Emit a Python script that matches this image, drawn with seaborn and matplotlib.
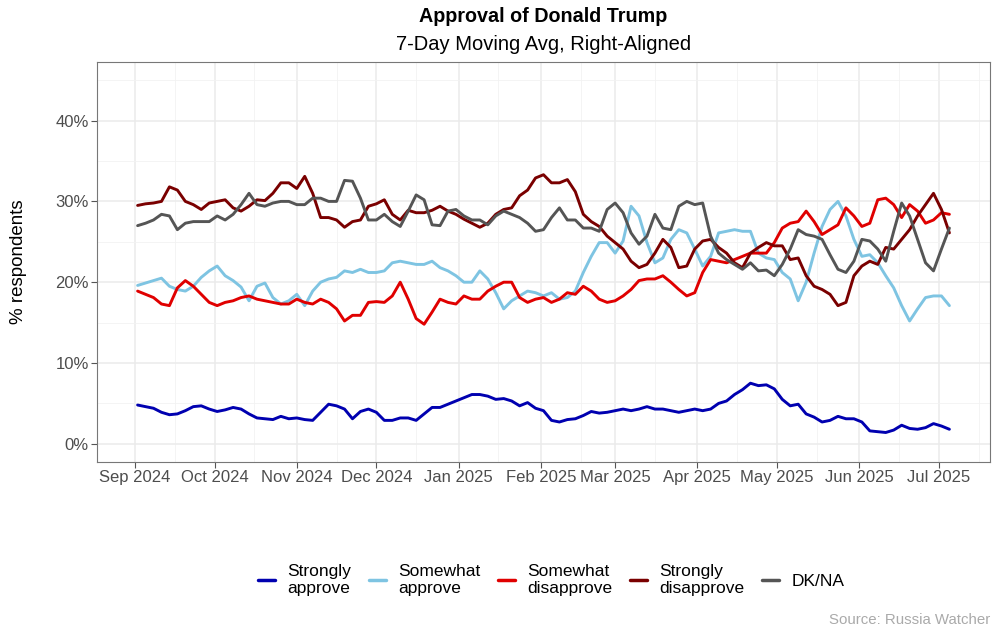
import pandas as pd
import seaborn as sns
import matplotlib.pyplot as plt
import matplotlib.dates as mdates
from matplotlib.ticker import FuncFormatter, MultipleLocator


# readings every 3 days, 7-day moving average (%)
dates = pd.date_range('2024-09-02', periods=103, freq='3D')

strongly_approve = [
    4.8, 4.6, 4.4, 3.9, 3.6, 3.7, 4.1, 4.6, 4.7, 4.3,
    4.0, 4.2, 4.5, 4.3, 3.7, 3.2, 3.1, 3.0, 3.4, 3.1,
    3.2, 3.0, 2.9, 3.9, 4.9, 4.7, 4.3, 3.1, 4.0, 4.3,
    3.9, 2.9, 2.9, 3.2, 3.2, 2.9, 3.7, 4.5, 4.5, 4.9,
    5.3, 5.7, 6.1, 6.1, 5.9, 5.5, 5.6, 5.3, 4.7, 5.1,
    4.4, 4.1, 2.9, 2.7, 3.0, 3.1, 3.5, 4.0, 3.8, 3.9,
    4.1, 4.3, 4.1, 4.3, 4.6, 4.3, 4.3, 4.1, 3.9, 4.1,
    4.3, 4.1, 4.3, 5.0, 5.3, 6.1, 6.7, 7.5, 7.2, 7.3,
    6.8, 5.5, 4.7, 4.9, 3.7, 3.3, 2.7, 2.9, 3.4, 3.1,
    3.1, 2.7, 1.6, 1.5, 1.4, 1.7, 2.3, 1.9, 1.8, 2.0,
    2.5, 2.2, 1.8]

somewhat_approve = [
    19.6, 19.9, 20.2, 20.5, 19.5, 19.1, 18.9, 19.5, 20.6, 21.4,
    22.0, 20.8, 20.2, 19.4, 17.7, 19.5, 19.9, 18.1, 17.3, 17.7,
    18.5, 17.1, 18.9, 20.0, 20.4, 20.6, 21.4, 21.2, 21.6, 21.2,
    21.2, 21.4, 22.4, 22.6, 22.4, 22.2, 22.2, 22.6, 21.8, 21.4,
    20.8, 20.0, 20.0, 21.4, 20.4, 18.7, 16.7, 17.7, 18.3, 18.9,
    18.7, 18.3, 18.7, 17.9, 18.1, 18.9, 21.2, 23.2, 24.9, 24.9,
    23.6, 25.1, 29.4, 28.2, 24.9, 22.4, 23.0, 25.3, 26.5, 26.1,
    24.1, 22.0, 23.2, 26.1, 26.3, 26.5, 26.3, 26.3, 23.6, 23.0,
    22.8, 21.2, 20.4, 17.7, 20.0, 23.6, 26.9, 29.0, 30.0, 28.2,
    25.3, 23.2, 23.4, 22.4, 20.8, 19.3, 17.1, 15.2, 16.7, 18.1,
    18.3, 18.3, 17.1]

somewhat_disapprove = [
    18.9, 18.5, 18.1, 17.3, 17.1, 19.3, 20.2, 19.5, 18.5, 17.5,
    17.1, 17.5, 17.7, 18.1, 18.3, 17.9, 17.7, 17.5, 17.3, 17.3,
    17.9, 17.5, 17.3, 17.9, 17.5, 16.7, 15.2, 15.9, 15.9, 17.5,
    17.6, 17.5, 18.3, 20.0, 17.9, 15.5, 14.8, 16.3, 17.9, 17.5,
    17.3, 18.3, 17.9, 17.9, 18.9, 19.5, 20.0, 20.0, 18.1, 17.5,
    17.9, 18.1, 17.5, 17.9, 18.7, 18.5, 19.5, 18.9, 17.9, 17.5,
    17.7, 18.3, 19.1, 20.2, 20.4, 20.4, 20.8, 20.0, 19.1, 18.3,
    18.7, 21.2, 22.8, 22.6, 22.4, 22.8, 23.2, 23.6, 23.6, 23.6,
    24.9, 26.7, 27.3, 27.5, 28.8, 27.5, 25.9, 26.5, 27.1, 29.2,
    28.2, 26.9, 27.3, 30.2, 30.4, 29.6, 28.0, 29.6, 28.8, 27.3,
    27.7, 28.6, 28.4]

strongly_disapprove = [
    29.5, 29.7, 29.8, 30.0, 31.8, 31.4, 30.0, 29.6, 29.0, 29.8,
    30.0, 30.2, 29.2, 28.8, 29.4, 30.2, 30.1, 31.0, 32.3, 32.3,
    31.6, 33.1, 31.0, 28.0, 28.0, 27.7, 26.8, 27.5, 27.7, 29.4,
    29.7, 30.2, 28.4, 27.7, 28.9, 28.6, 28.6, 28.9, 29.4, 28.8,
    28.4, 27.8, 27.3, 26.8, 27.3, 28.4, 29.0, 29.2, 30.7, 31.4,
    32.9, 33.3, 32.3, 32.3, 32.7, 31.2, 28.4, 27.5, 26.9, 25.7,
    24.9, 24.1, 22.6, 21.8, 22.2, 23.6, 25.3, 24.3, 21.8, 22.0,
    24.1, 25.1, 25.3, 24.3, 23.6, 22.4, 21.8, 23.6, 24.3, 24.9,
    24.5, 24.5, 22.8, 23.0, 20.8, 19.5, 19.1, 18.5, 17.1, 17.5,
    20.8, 22.0, 22.6, 22.2, 24.3, 24.1, 25.3, 26.5, 28.2, 29.6,
    31.0, 29.0, 26.1]

dk_na = [
    27.0, 27.3, 27.7, 28.4, 28.2, 26.5, 27.3, 27.5, 27.5, 27.5,
    28.2, 27.7, 28.4, 29.6, 31.0, 29.6, 29.4, 29.8, 30.0, 30.0,
    29.6, 29.6, 30.4, 30.4, 30.0, 30.0, 32.6, 32.5, 30.4, 27.7,
    27.7, 28.4, 27.5, 26.9, 28.8, 30.8, 30.2, 27.1, 27.0, 28.8,
    29.0, 28.2, 27.7, 27.7, 27.1, 28.2, 28.8, 28.4, 28.0, 27.3,
    26.3, 26.5, 28.0, 29.2, 27.7, 27.7, 26.7, 26.7, 26.3, 29.0,
    29.8, 28.6, 26.1, 24.7, 25.7, 28.4, 26.7, 26.5, 29.4, 30.0,
    29.6, 29.8, 25.7, 23.6, 22.8, 22.2, 21.6, 22.4, 21.4, 21.5,
    20.8, 22.2, 24.1, 26.5, 25.9, 25.7, 25.3, 23.4, 21.6, 21.2,
    22.6, 25.3, 25.1, 24.1, 22.6, 26.3, 29.8, 28.2, 25.3, 22.4,
    21.4, 24.1, 26.7]

groups = ['Strongly\napprove', 'Somewhat\napprove', 'Somewhat\ndisapprove',
          'Strongly\ndisapprove', 'DK/NA']
colors = ['#0000B0', '#7EC4E2', '#E00000', '#7A0000', '#555555']
values = [strongly_approve, somewhat_approve, somewhat_disapprove,
          strongly_disapprove, dk_na]

df = pd.concat([pd.DataFrame({'date': dates, 'pct': v, 'group': g})
                for g, v in zip(groups, values)], ignore_index=True)

sns.set_style('white')
plt.rcParams['font.family'] = ['Liberation Sans', 'DejaVu Sans']
plt.rcParams['text.color'] = 'black'
plt.rcParams['axes.labelcolor'] = 'black'

fig = plt.figure(figsize=(10, 6.36), dpi=100)
ax = fig.add_axes([0.097, 0.2736, 0.893, 0.6289])

sns.lineplot(data=df, x='date', y='pct', hue='group', hue_order=groups,
             palette=colors, linewidth=2.1, ax=ax)

# axes limits with 5% padding like ggplot
span = dates[-1] - dates[0]
ax.set_xlim(dates[0] - span * 0.05, dates[-1] + span * 0.05)
ax.set_ylim(-2.25, 47.25)

ax.xaxis.set_major_locator(mdates.MonthLocator())
ax.xaxis.set_minor_locator(mdates.MonthLocator(bymonthday=16))
ax.xaxis.set_major_formatter(mdates.DateFormatter('%b %Y'))
ax.yaxis.set_major_locator(MultipleLocator(10))
ax.yaxis.set_minor_locator(MultipleLocator(5))
ax.yaxis.set_major_formatter(FuncFormatter(lambda v, p: f'{v:.0f}%'))

ax.grid(which='major', color='#EBEBEB', linewidth=1.1)
ax.grid(which='minor', color='#F2F2F2', linewidth=0.6)
ax.set_axisbelow(True)
for s in ax.spines.values():
    s.set_color('#777777')
    s.set_linewidth(0.8)

ax.tick_params(axis='both', which='major', length=4, width=0.8, color='#555555',
               labelsize=12, labelcolor='#4D4D4D', pad=2, bottom=True, left=True)
ax.tick_params(which='minor', length=0)

ax.set_xlabel('')
ax.set_ylabel('% respondents', fontsize=13.5, labelpad=20)

handles, labels = ax.get_legend_handles_labels()
ax.get_legend().remove()
for h in handles:
    h.set_linewidth(2.5)
fig.legend(handles, labels, loc='center', bbox_to_anchor=(0.551, 0.088), ncol=5,
           frameon=False, fontsize=12.5, handlelength=1.0, handletextpad=0.7,
           columnspacing=1.0, labelspacing=0.2)

fig.text(0.5435, 1 - 17 / 636, 'Approval of Donald Trump', ha='center', va='center',
         fontsize=14.2, fontweight='bold')
fig.text(0.5435, 1 - 44 / 636, '7-Day Moving Avg, Right-Aligned', ha='center',
         va='center', fontsize=14.5)
fig.text(0.99, 1 - 620 / 636, 'Source: Russia Watcher', ha='right', va='center',
         fontsize=10.8, color='#AAAAAA')

fig.savefig('out.png', dpi=100)
